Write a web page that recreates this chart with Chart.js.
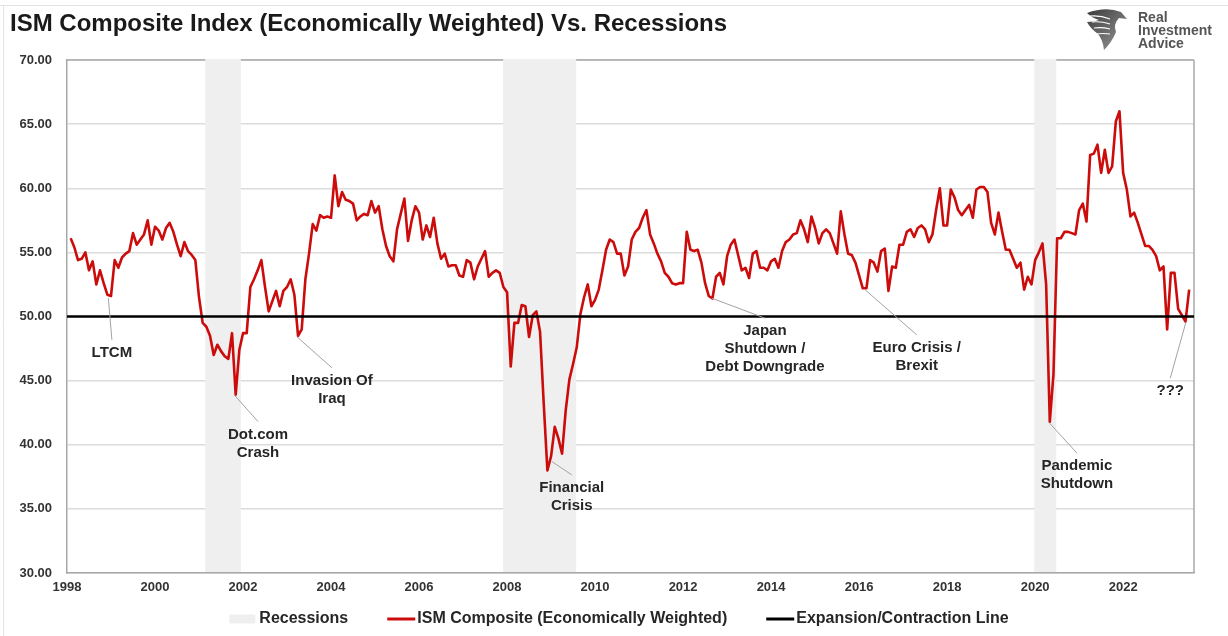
<!DOCTYPE html>
<html><head><meta charset="utf-8">
<script src="https://cdn.jsdelivr.net/npm/chart.js@4/dist/chart.umd.min.js"></script>
<style>html,body{margin:0;padding:0;background:#fff;}canvas{display:block;}</style>
</head><body>
<canvas id="c" width="1228" height="636"></canvas>
<script>
// ---------------- DATA ----------------
const firstYear = 1998;           // monthly series, Jan 1998 onwards (month-end dated)
const ismComposite = [
  // 1998
  56.1, 55.4, 54.4, 54.5, 55.0, 53.6, 54.3, 52.5, 53.6, 52.6, 51.7, 51.6,
  // 1999
  54.4, 53.8, 54.6, 54.9, 55.1, 56.5, 55.6, 56.0, 56.4, 57.5, 55.6, 57.0,
  // 2000
  56.7, 56.0, 56.9, 57.3, 56.6, 55.6, 54.7, 55.8, 55.1, 54.8, 54.4, 51.5,
  // 2001
  49.5, 49.2, 48.5, 47.0, 47.8, 47.3, 46.9, 46.7, 48.7, 43.9, 47.4, 48.7,
  // 2002
  48.7, 52.3, 52.9, 53.6, 54.4, 52.3, 50.4, 51.2, 52.0, 50.8, 52.0, 52.3,
  // 2003
  52.9, 51.7, 48.5, 49.0, 52.9, 54.9, 57.2, 56.7, 57.9, 57.7, 57.8, 57.7,
  // 2004
  61.0, 58.6, 59.7, 59.1, 59.0, 58.8, 57.5, 57.8, 58.0, 57.9, 59.0, 58.1,
  // 2005
  58.6, 56.8, 55.5, 54.7, 54.3, 56.8, 58.0, 59.2, 55.9, 57.5, 58.6, 58.1,
  // 2006
  56.0, 57.1, 56.2, 57.7, 55.7, 54.5, 54.9, 53.9, 54.0, 54.0, 53.2, 53.1,
  // 2007
  54.4, 54.2, 52.9, 53.9, 54.5, 55.1, 53.1, 53.4, 53.6, 53.4, 52.3, 51.9,
  // 2008
  46.1, 49.5, 49.5, 50.9, 50.8, 48.4, 50.1, 50.4, 48.8, 43.2, 38.0, 39.1,
  // 2009
  41.4, 40.5, 39.3, 42.7, 45.1, 46.3, 47.6, 50.2, 51.5, 52.5, 50.8, 51.3,
  // 2010
  52.1, 53.6, 55.2, 56.0, 55.8, 54.9, 54.9, 53.2, 53.9, 56.0, 56.6, 56.9,
  // 2011
  57.7, 58.3, 56.4, 55.7, 54.9, 54.3, 53.4, 53.1, 52.6, 52.5, 52.6, 52.6,
  // 2012
  56.6, 55.2, 55.1, 55.2, 54.2, 52.6, 51.6, 51.4, 53.1, 53.4, 52.5, 54.7,
  // 2013
  55.6, 56.0, 54.8, 53.6, 53.8, 53.0, 54.9, 55.1, 53.8, 53.8, 53.6, 54.3,
  // 2014
  54.5, 53.8, 55.1, 55.8, 56.0, 56.4, 56.5, 57.5, 56.8, 55.8, 57.8, 56.9,
  // 2015
  55.7, 56.5, 56.8, 56.5, 55.7, 54.9, 58.2, 56.4, 54.9, 54.8, 54.2, 53.2,
  // 2016
  52.2, 52.2, 54.4, 54.2, 53.5, 55.1, 55.3, 52.0, 53.9, 53.8, 55.6, 55.6,
  // 2017
  56.6, 56.8, 56.2, 56.9, 57.1, 56.8, 55.8, 56.4, 58.3, 60.0, 57.1, 57.1,
  // 2018
  59.9, 59.3, 58.3, 57.9, 58.3, 58.7, 57.7, 59.9, 60.1, 60.1, 59.7, 57.3,
  // 2019
  56.4, 58.1, 56.6, 55.2, 55.2, 54.5, 53.8, 54.2, 52.1, 53.1, 52.5, 54.4,
  // 2020
  55.0, 55.7, 52.5, 41.8, 45.5, 56.1, 56.1, 56.6, 56.6, 56.5, 56.4, 58.3,
  // 2021
  58.8, 57.4, 62.6, 62.7, 63.4, 61.2, 63.0, 61.2, 61.7, 65.2, 66.0, 61.2,
  // 2022
  59.9, 57.8, 58.1, 57.3, 56.4, 55.5, 55.5, 55.2, 54.7, 53.6, 53.9, 49.0,
  // 2023
  53.4, 53.4, 50.6, 50.1, 49.6, 52.1
];
const recessionStarts = [2001.14, 2007.91, 2019.98];
const recessionEnds   = [2001.95, 2009.57, 2020.48];
const expansionLevel = 50;
const xAxisMin = 1998, xAxisMax = 2023.61, xTickStep = 2;
const yAxisMin = 30, yAxisMax = 70, yTickStep = 5;
const seriesLabels = ['Recessions', 'ISM Composite (Economically Weighted)', 'Expansion/Contraction Line'];
const annotationTexts = [['LTCM'], ['Dot.com','Crash'], ['Invasion Of','Iraq'], ['Financial','Crisis'],
  ['Japan','Shutdown /','Debt Downgrade'], ['Euro Crisis /','Brexit'], ['Pandemic','Shutdown'], ['???']];
// anchor on the series (date, value) and end of the leader line (date, value)
const annotationPointX = [1998.94, 2001.80, 2003.22, 2009.02, 2012.65, 2016.14, 2020.33, 2023.43];
const annotationPointY = [51.43, 43.89, 48.43, 38.69, 51.43, 52.07, 41.68, 49.6];
const annotationEndX   = [1999.02, 2002.34, 2004.02, 2009.47, 2013.86, 2017.31, 2020.95, 2023.07];
const annotationEndY   = [48.18, 41.81, 46.0, 37.65, 49.87, 48.57, 39.35, 45.19];

// ---------------- STYLE ----------------
const FONT = '"Liberation Sans", Arial, Helvetica, sans-serif';
const RED = '#cc0b0b';
const REC_GRAY = '#efefef';

const ismPoints = ismComposite.map((v, i) => ({ x: firstYear + (i + 1) / 12, y: v }));
const linePoints = [{ x: xAxisMin, y: expansionLevel }, { x: xAxisMax, y: expansionLevel }];

const decor = {
  id: 'decor',
  beforeDraw(chart) {
    const ctx = chart.ctx;
    ctx.save();
    ctx.fillStyle = '#fff';
    ctx.fillRect(0, 0, chart.width, chart.height);
    // frame lines
    ctx.strokeStyle = '#e3e3e3'; ctx.lineWidth = 1;
    ctx.beginPath(); ctx.moveTo(0, 5.5); ctx.lineTo(chart.width, 5.5); ctx.stroke();
    ctx.beginPath(); ctx.moveTo(3.5, 5); ctx.lineTo(3.5, chart.height); ctx.stroke();
    // title
    ctx.fillStyle = '#1a1a1a';
    ctx.font = 'bold 24px ' + FONT;
    ctx.textAlign = 'left'; ctx.textBaseline = 'alphabetic';
    ctx.fillText('ISM Composite Index (Economically Weighted) Vs. Recessions', 10, 31);
    // logo: eagle mark
    const g = ctx.createLinearGradient(1086, 10, 1126, 50);
    g.addColorStop(0, '#3a3a3a'); g.addColorStop(1, '#9a9a9a');
    ctx.fillStyle = g;
    ctx.beginPath();
    ctx.moveTo(1087, 13);
    ctx.quadraticCurveTo(1106, 6, 1121, 12);
    ctx.lineTo(1127, 19);
    ctx.lineTo(1119, 18);
    ctx.quadraticCurveTo(1113, 24, 1116, 32);
    ctx.quadraticCurveTo(1112, 42, 1104, 50);
    ctx.quadraticCurveTo(1103, 40, 1098, 34);
    ctx.quadraticCurveTo(1090, 28, 1087, 22);
    ctx.quadraticCurveTo(1094, 22, 1099, 20);
    ctx.quadraticCurveTo(1092, 18, 1087, 13);
    ctx.closePath();
    ctx.fill();
    ctx.strokeStyle = '#ffffff'; ctx.lineWidth = 1.2;
    for (let i = 0; i < 4; i++) {
      ctx.beginPath();
      ctx.moveTo(1090 + i * 2, 16 + i * 6);
      ctx.quadraticCurveTo(1100 + i, 15 + i * 6, 1110, 19 + i * 5);
      ctx.stroke();
    }
    ctx.fillStyle = '#555';
    ctx.font = 'bold 14px ' + FONT;
    ctx.fillText('Real', 1138, 22);
    ctx.fillText('Investment', 1138, 35);
    ctx.fillText('Advice', 1138, 48);
    ctx.restore();
  },
  beforeDatasetsDraw(chart) {
    const { ctx, chartArea, scales } = chart;
    ctx.save();
    // right border of plot
    ctx.strokeStyle = '#a8a8a8'; ctx.lineWidth = 1.5;
    ctx.beginPath(); ctx.moveTo(chartArea.right, chartArea.top); ctx.lineTo(chartArea.right, chartArea.bottom); ctx.stroke();
    ctx.beginPath(); ctx.moveTo(chartArea.left, chartArea.top); ctx.lineTo(chartArea.right, chartArea.top); ctx.stroke();
    // recession bands
    ctx.fillStyle = REC_GRAY;
    for (let i = 0; i < recessionStarts.length; i++) {
      const x0 = scales.x.getPixelForValue(recessionStarts[i]);
      const x1 = scales.x.getPixelForValue(recessionEnds[i]);
      ctx.fillRect(x0, chartArea.top - 1, x1 - x0, chartArea.bottom - chartArea.top);
    }
    ctx.restore();
  },
  afterDatasetsDraw(chart) {
    const { ctx, scales } = chart;
    ctx.save();
    ctx.font = 'bold 15px ' + FONT;
    ctx.textAlign = 'center'; ctx.textBaseline = 'middle';
    for (let i = 0; i < annotationTexts.length; i++) {
      const px = scales.x.getPixelForValue(annotationPointX[i]);
      const py = scales.y.getPixelForValue(annotationPointY[i]);
      const ex = scales.x.getPixelForValue(annotationEndX[i]);
      const ey = scales.y.getPixelForValue(annotationEndY[i]);
      ctx.strokeStyle = '#a3a3a3'; ctx.lineWidth = 1;
      ctx.beginPath(); ctx.moveTo(px, py); ctx.lineTo(ex, ey); ctx.stroke();
      ctx.fillStyle = '#262626';
      annotationTexts[i].forEach((t, j) => ctx.fillText(t, ex, ey + 13 + j * 18));
    }
    ctx.restore();
  },
  afterDraw(chart) {
    const ctx = chart.ctx;
    ctx.save();
    ctx.font = 'bold 16px ' + FONT;
    ctx.textBaseline = 'middle'; ctx.textAlign = 'left';
    const ds = chart.data.datasets;
    const items = [
      { label: seriesLabels[0], kind: 'box', color: REC_GRAY, w: 26, gap: 4 },
      { label: ds[1].label, kind: 'line', color: ds[1].borderColor, w: 28, gap: 2 },
      { label: ds[0].label, kind: 'line', color: ds[0].borderColor, w: 28, gap: 2 }
    ];
    const spacing = 39;
    let total = 0;
    items.forEach((it, i) => { it.tw = ctx.measureText(it.label).width; total += it.w + it.gap + it.tw + (i ? spacing : 0); });
    let x = 619 - total / 2;
    const y = 619;
    items.forEach((it) => {
      if (it.kind === 'box') {
        ctx.fillStyle = it.color; ctx.fillRect(x, y - 4.5, it.w, 9);
      } else {
        ctx.strokeStyle = it.color; ctx.lineWidth = 3;
        ctx.beginPath(); ctx.moveTo(x, y); ctx.lineTo(x + it.w, y); ctx.stroke();
      }
      x += it.w + it.gap;
      ctx.fillStyle = '#262626';
      ctx.fillText(it.label, x, y);
      x += it.tw + spacing;
    });
    ctx.restore();
  }
};

new Chart(document.getElementById('c'), {
  type: 'line',
  data: {
    datasets: [
      { label: seriesLabels[2], data: linePoints, borderColor: '#000000', borderWidth: 2.6,
        pointRadius: 0, fill: false, order: 0 },
      { label: seriesLabels[1], data: ismPoints, borderColor: RED, borderWidth: 2.6,
        pointRadius: 0, fill: false, tension: 0, order: 1, borderJoinStyle: 'round' }
    ]
  },
  options: {
    responsive: false,
    animation: false,
    events: [],
    layout: { padding: { top: 60, right: 34, bottom: 0, left: 0 } },
    plugins: { legend: { display: false }, tooltip: { enabled: false }, title: { display: false } },
    scales: {
      x: {
        type: 'linear', min: xAxisMin, max: xAxisMax,
        afterFit(s) { s.height = 63; },
        grid: { display: false, drawTicks: false },
        border: { display: true, color: '#a8a8a8', width: 1.5 },
        ticks: {
          stepSize: xTickStep, includeBounds: false, padding: 7, autoSkip: false, maxRotation: 0,
          color: '#333', font: { family: FONT, weight: 'bold', size: 13 },
          callback: (v) => Number(v).toFixed(0)
        }
      },
      y: {
        min: yAxisMin, max: yAxisMax,
        afterFit(s) { s.width = 67; },
        grid: { color: '#dcdcdc', lineWidth: 1.5, drawTicks: false },
        border: { display: true, color: '#a8a8a8', width: 1.5 },
        ticks: {
          stepSize: yTickStep, padding: 15,
          color: '#333', font: { family: FONT, weight: 'bold', size: 13 },
          callback: (v) => Number(v).toFixed(2)
        }
      }
    }
  },
  plugins: [decor]
});
</script>
</body></html>
